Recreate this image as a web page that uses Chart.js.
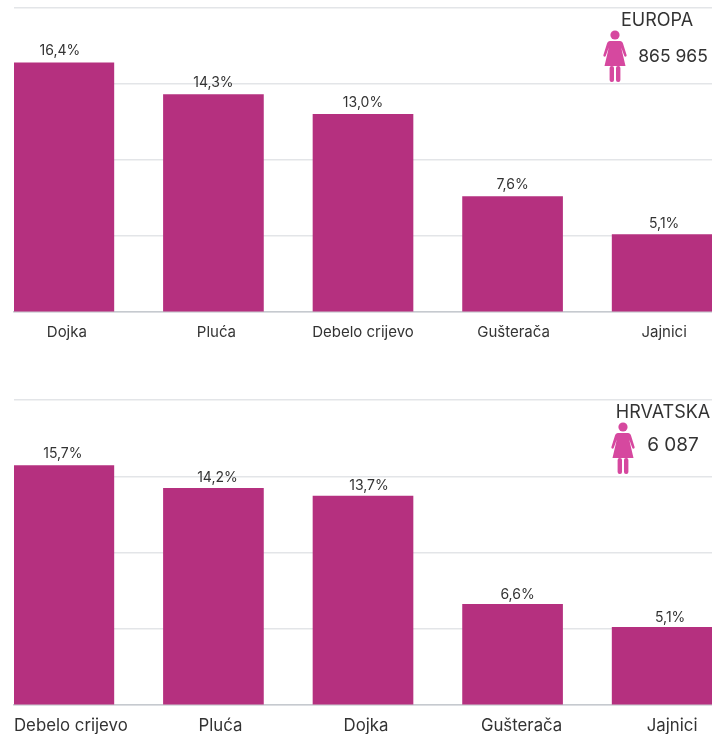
<!DOCTYPE html>
<html>
<head>
<meta charset="utf-8">
<script src="https://cdn.jsdelivr.net/npm/chart.js@4"></script>
<style>
  html, body { margin: 0; padding: 0; background: #fff; }
  body { width: 712px; height: 734px; position: relative; overflow: hidden; font-family: Inter, "Open Sans", sans-serif; color: #333; }
  .chart { position: absolute; left: 0; width: 712px; }
  .txt { position: absolute; white-space: nowrap; transform: translate(-50%, -50%); font-size: 18px; }
  .woman { position: absolute; width: 24px; height: 52px; }
</style>
</head>
<body>
<div class="chart" style="top:0;height:360px"><canvas id="europa"></canvas></div>
<div class="chart" style="top:392px;height:342px"><canvas id="hrvatska"></canvas></div>

<div class="txt" style="left:657px;top:19px;">EUROPA</div>
<div class="txt" style="left:673px;top:55px;font-size:17.5px">865 965</div>
<div class="txt" style="left:663px;top:411px;">HRVATSKA</div>
<div class="txt" style="left:673px;top:444px;font-size:19px">6 087</div>

<svg class="woman" style="left:603px;top:30px" viewBox="0 0 24 52"><use href="#fig"/></svg>
<svg class="woman" style="left:611px;top:422px" viewBox="0 0 24 52"><use href="#fig"/></svg>
<svg width="0" height="0" style="position:absolute">
  <g id="fig" fill="#d6489f">
    <circle cx="12" cy="5" r="4.6"/>
    <path d="M7 11 H17 C18.5 11 19.5 12 20 13.5 L23.6 25 C24 26.6 21.8 27.4 21.2 25.8 L18.2 17.5 L22.5 36 H1.5 L5.8 17.5 L2.8 25.8 C2.2 27.4 0 26.6 0.4 25 L4 13.5 C4.5 12 5.5 11 7 11 Z"/>
    <rect x="6.6" y="36" width="4.4" height="16" rx="2"/>
    <rect x="13" y="36" width="4.4" height="16" rx="2"/>
  </g>
</svg>

<script>
const europaLabels = ["Dojka", "Pluća", "Debelo crijevo", "Gušterača", "Jajnici"];
const europaValues = [16.4, 14.3, 13.0, 7.6, 5.1];
const hrvatskaLabels = ["Debelo crijevo", "Pluća", "Dojka", "Gušterača", "Jajnici"];
const hrvatskaValues = [15.7, 14.2, 13.7, 6.6, 5.1];
const yTicks = [0, 5, 10, 15, 20];

// the labels sit a little off the bar centres in the original
const europaNudge = [3, 3, 0, 1, 2];
const hrvatskaNudge = [7, 7, 3, 9, 10];
const europaValueNudge = [[-4, -12], [0, -12], [0, -12], [0, -12], [2, -11]];
const hrvatskaValueNudge = [[-1, -12], [4, -11], [6, -10], [5, -10], [8, -9]];

const BAR = "#b5307f";
const FONT = "Inter, 'Open Sans', sans-serif";

const valueLabels = {
  id: "valueLabels",
  afterDatasetsDraw(chart) {
    const ctx = chart.ctx;
    const meta = chart.getDatasetMeta(0);
    const nudge = chart.options.valueNudge;
    ctx.save();
    ctx.font = "14px " + FONT;
    ctx.fillStyle = "#333";
    ctx.textAlign = "center";
    ctx.textBaseline = "middle";
    meta.data.forEach((bar, i) => {
      const v = chart.data.datasets[0].data[i].y;
      ctx.fillText(v.toFixed(1).replace(".", ",") + "%", bar.x + nudge[i][0], bar.y + nudge[i][1]);
    });
    ctx.restore();
  }
};

function makeChart(id, labels, values, nudge, valueNudge, axisHeight, labelPad, labelSize) {
  const pxPerUnit = 149.7;
  return new Chart(document.getElementById(id), {
    type: "bar",
    data: {
      datasets: [{
        data: values.map((v, i) => ({ x: i, y: v })),
        backgroundColor: BAR,
        barThickness: 100,
      }]
    },
    options: {
      responsive: true,
      maintainAspectRatio: false,
      animation: false,
      valueNudge,
      layout: { padding: { left: 14, top: 8, right: 0, bottom: 0 } },
      plugins: { legend: { display: false }, tooltip: { enabled: false } },
      scales: {
        x: {
          type: "linear",
          offset: false,
          min: -1 / 3,
          max: 13 / 3,
          grid: { display: false, drawTicks: false },
          border: { color: "#c6cacf", width: 1.5 },
          afterBuildTicks: (s) => {
            s.ticks = labels.map((l, i) => ({ value: i + nudge[i] / pxPerUnit, label: l }));
          },
          afterTickToLabelConversion: (s) => {
            s.ticks.forEach((t, i) => { t.label = labels[i]; });
          },
          afterFit: (s) => { s.height = axisHeight; s.paddingLeft = 0; s.paddingRight = 0; },
          ticks: {
            autoSkip: false,
            maxRotation: 0,
            padding: labelPad,
            color: "#333",
            font: { family: FONT, size: labelSize },
          },
        },
        y: {
          min: 0,
          max: 20,
          grid: { color: "#e3e5e8", lineWidth: 1.5, drawTicks: false },
          border: { display: false },
          afterBuildTicks: (s) => { s.ticks = yTicks.map(v => ({ value: v })); },
          afterFit: (s) => { s.width = 0; },
          ticks: { display: false },
        },
      },
    },
    plugins: [valueLabels],
  });
}

makeChart("europa", europaLabels, europaValues, europaNudge, europaValueNudge, 48, 11, 15);
makeChart("hrvatska", hrvatskaLabels, hrvatskaValues, hrvatskaNudge, hrvatskaValueNudge, 29, 11, 16.8);
</script>
</body>
</html>
